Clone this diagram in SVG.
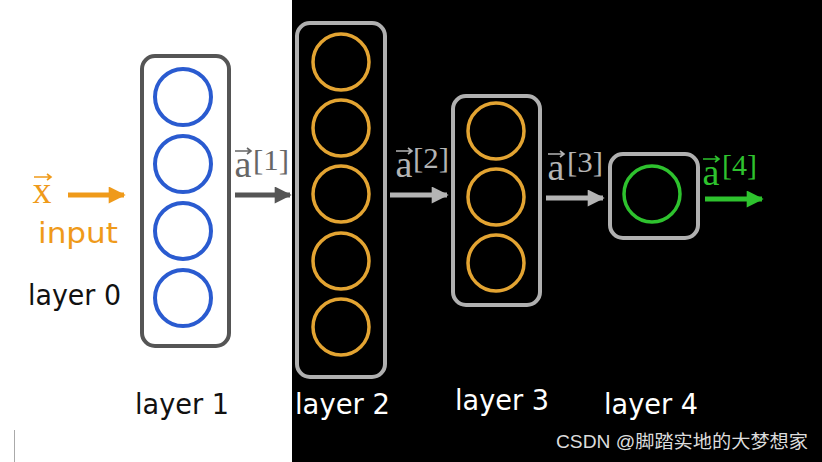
<svg xmlns="http://www.w3.org/2000/svg" width="822" height="462" viewBox="0 0 822 462">
<style>
.box{fill:none;stroke-width:4}
.lbl{font-family:"DejaVu Sans",sans-serif;font-size:28px}
.vec{font-family:"Liberation Serif","DejaVu Serif",serif}
.blue{fill:none;stroke:#2a5bd0;stroke-width:4}
.gold{fill:none;stroke:#e3a432;stroke-width:3.5}
</style>
<defs>
<marker id="hOr" viewBox="0 0 10 10" refX="9" refY="5" markerWidth="3.6" markerHeight="3.4" orient="auto" markerUnits="strokeWidth"><path d="M0,0 L10,5 L0,10 Z" fill="#ef9a1a"/></marker>
<marker id="hDk" viewBox="0 0 10 10" refX="9" refY="5" markerWidth="3.6" markerHeight="3.4" orient="auto" markerUnits="strokeWidth"><path d="M0,0 L10,5 L0,10 Z" fill="#555"/></marker>
<marker id="hLt" viewBox="0 0 10 10" refX="9" refY="5" markerWidth="3.6" markerHeight="3.4" orient="auto" markerUnits="strokeWidth"><path d="M0,0 L10,5 L0,10 Z" fill="#b4b4b4"/></marker>
<marker id="hGr" viewBox="0 0 10 10" refX="9" refY="5" markerWidth="3.6" markerHeight="3.4" orient="auto" markerUnits="strokeWidth"><path d="M0,0 L10,5 L0,10 Z" fill="#2ec22e"/></marker>
</defs>
<rect x="0" y="0" width="822" height="462" fill="#ffffff"/>
<rect x="292" y="0" width="530" height="462" fill="#000000"/>
<line x1="14.5" y1="430" x2="14.5" y2="462" stroke="#aaa" stroke-width="1"/>

<g id="input">
<text x="42" y="203" text-anchor="middle" class="vec" font-size="38" fill="#ef9a1a">x</text>
<path d="M34,177 H51 M47,174 L51,177 L47,180" fill="none" stroke="#ef9a1a" stroke-width="1.6"/>
<text x="38" y="243" class="lbl" font-size="31" fill="#ef9a1a" textLength="80" lengthAdjust="spacingAndGlyphs">input</text>
<text x="28" y="305" class="lbl" fill="#111" textLength="93" lengthAdjust="spacingAndGlyphs">layer 0</text>
</g>

<g id="layer1">
<rect x="142" y="56" width="87" height="290" rx="13" class="box" stroke="#555"/>
<circle cx="183" cy="97" r="28" class="blue"/>
<circle cx="183" cy="164" r="28" class="blue"/>
<circle cx="183" cy="231" r="28" class="blue"/>
<circle cx="183" cy="298" r="28" class="blue"/>
<text x="135" y="414" class="lbl" fill="#111" textLength="94" lengthAdjust="spacingAndGlyphs">layer 1</text>
</g>

<g id="layer2">
<rect x="297" y="23" width="88" height="354" rx="13" class="box" stroke="#b0b0b0"/>
<circle cx="341" cy="62" r="28" class="gold"/>
<circle cx="341" cy="128" r="28" class="gold"/>
<circle cx="341" cy="194" r="28" class="gold"/>
<circle cx="341" cy="261" r="28" class="gold"/>
<circle cx="341" cy="327" r="28" class="gold"/>
<text x="295" y="414" class="lbl" fill="#fff" textLength="95" lengthAdjust="spacingAndGlyphs">layer 2</text>
</g>

<g id="layer3">
<rect x="453" y="96" width="87" height="209" rx="13" class="box" stroke="#b0b0b0"/>
<circle cx="496" cy="131" r="28" class="gold"/>
<circle cx="496" cy="197" r="28" class="gold"/>
<circle cx="496" cy="263" r="28" class="gold"/>
<text x="455" y="410" class="lbl" fill="#fff" textLength="94" lengthAdjust="spacingAndGlyphs">layer 3</text>
</g>

<g id="layer4">
<rect x="610" y="154" width="88" height="84" rx="13" class="box" stroke="#b0b0b0"/>
<circle cx="652" cy="194" r="28" fill="none" stroke="#2ec22e" stroke-width="3.5"/>
<text x="604" y="414" class="lbl" fill="#fff" textLength="94" lengthAdjust="spacingAndGlyphs">layer 4</text>
</g>

<g id="connectors">
<line x1="68" y1="195" x2="124" y2="195" stroke="#ef9a1a" stroke-width="5" marker-end="url(#hOr)"/>
<line x1="235" y1="195" x2="290" y2="195" stroke="#555" stroke-width="5" marker-end="url(#hDk)"/>
<line x1="390" y1="195" x2="447" y2="195" stroke="#b4b4b4" stroke-width="5" marker-end="url(#hLt)"/>
<line x1="546" y1="198" x2="603" y2="198" stroke="#b4b4b4" stroke-width="5" marker-end="url(#hLt)"/>
<line x1="705" y1="199" x2="762" y2="199" stroke="#2ec22e" stroke-width="5" marker-end="url(#hGr)"/>
</g>

<g id="labels">
<g fill="#666">
<text x="243" y="177" text-anchor="middle" class="vec" font-size="38">a</text>
<path d="M235,151 H251 M247,148 L251,151 L247,154" fill="none" stroke="#666" stroke-width="1.6"/>
<text x="253" y="170" class="vec" font-size="29" textLength="36" lengthAdjust="spacingAndGlyphs">[1]</text>
</g>
<g fill="#b4b4b4">
<text x="404" y="177" text-anchor="middle" class="vec" font-size="38">a</text>
<path d="M396,151 H412 M408,148 L412,151 L408,154" fill="none" stroke="#b4b4b4" stroke-width="1.6"/>
<text x="413" y="168" class="vec" font-size="29" textLength="36" lengthAdjust="spacingAndGlyphs">[2]</text>
</g>
<g fill="#b4b4b4">
<text x="556" y="180" text-anchor="middle" class="vec" font-size="38">a</text>
<path d="M548,154 H564 M560,151 L564,154 L560,157" fill="none" stroke="#b4b4b4" stroke-width="1.6"/>
<text x="567" y="172" class="vec" font-size="29" textLength="36" lengthAdjust="spacingAndGlyphs">[3]</text>
</g>
<g fill="#2ec22e">
<text x="711" y="185" text-anchor="middle" class="vec" font-size="38">a</text>
<path d="M703,159 H719 M715,156 L719,159 L715,162" fill="none" stroke="#2ec22e" stroke-width="1.6"/>
<text x="722" y="175" class="vec" font-size="29" textLength="35" lengthAdjust="spacingAndGlyphs">[4]</text>
</g>
</g>

<text x="556" y="448" font-family="'Liberation Sans','Noto Sans CJK SC',sans-serif" font-size="18" fill="#dcdcdc" textLength="252" lengthAdjust="spacingAndGlyphs">CSDN @脚踏实地的大梦想家</text>
</svg>
